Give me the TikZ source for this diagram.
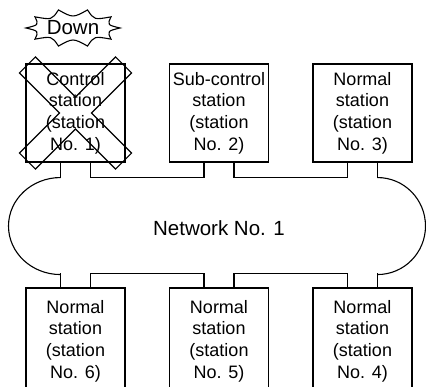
\documentclass[tikz,border=0pt]{standalone}
\usepackage{fontspec}
\setmainfont{Liberation Sans}

\begin{document}
\begin{tikzpicture}[x=1pt, y=-1pt,
    station/.style={draw, line width=1.1pt, minimum width=99pt, minimum height=98pt,
                    inner sep=0pt, align=center, font=\fontsize{18}{21.6}\selectfont},
    link/.style={line width=1.8pt},
    outline/.style={line width=1.1pt, line join=miter},
    label/.style={font=\fontsize{20.5}{24}\selectfont, inner sep=0pt},
]
\useasboundingbox (0,0) rectangle (426,387);

% --- Stations above the network ---
\node[station] (st1) at (75.5,113) {Control\\station\\(station\\No. 1)};
\node[station] (st2) at (219,113)  {Sub-control\\station\\(station\\No. 2)};
\node[station] (st3) at (362.5,113) {Normal\\station\\(station\\No. 3)};

% --- Stations below the network ---
\node[station, minimum height=106pt] (st6) at (75.5,341)  {Normal\\station\\(station\\No. 6)};
\node[station, minimum height=106pt] (st5) at (219,341)   {Normal\\station\\(station\\No. 5)};
\node[station, minimum height=106pt] (st4) at (362.5,341) {Normal\\station\\(station\\No. 4)};

% --- Network ---
\node[label] (net) at (219,228) {Network No. 1};

% --- Upper links ---
\draw[link] ([xshift=15pt]st1.south) -- ++(0,15) -| ([xshift=-15pt]st2.south);
\draw[link] ([xshift=15pt]st2.south) -- ++(0,15) -| ([xshift=-15pt]st3.south);
\draw[link] ([xshift=-15pt]st1.south) -- ++(0,15) coordinate (nw);
\draw[link] ([xshift=15pt]st3.south) -- ++(0,15) coordinate (ne);

% --- Lower links ---
\draw[link] ([xshift=15pt]st6.north) -- ++(0,-14) -| ([xshift=-15pt]st5.north);
\draw[link] ([xshift=15pt]st5.north) -- ++(0,-14) -| ([xshift=-15pt]st4.north);
\draw[link] ([xshift=-15pt]st6.north) -- ++(0,-14) coordinate (sw);
\draw[link] ([xshift=15pt]st4.north) -- ++(0,-14) coordinate (se);

% --- Network ends ---
\draw[outline] (nw) arc[start angle=270, end angle=90, x radius=52, y radius=48.5];
\draw[outline] (ne) arc[start angle=270, end angle=450, x radius=48, y radius=48.5];

% --- Station No. 1 is down ---
\begin{scope}[shift={(st1.center)}, rotate=45]
  \draw[outline] (68,11.3) -- (11.3,11.3) -- (11.3,68) -- (-11.3,68) -- (-11.3,11.3)
    -- (-68,11.3) -- (-68,-11.3) -- (-11.3,-11.3) -- (-11.3,-68) -- (11.3,-68)
    -- (11.3,-11.3) -- (68,-11.3) -- cycle;
\end{scope}

\node[label] (down) at (73,28) {Down};
\draw[outline, shift={(down.center)}] (0:47 and 19)
  \foreach \a in {0,36,...,324} { .. controls (\a+18:36 and 10) .. (\a+36:47 and 19) } -- cycle;

\end{tikzpicture}
\end{document}
